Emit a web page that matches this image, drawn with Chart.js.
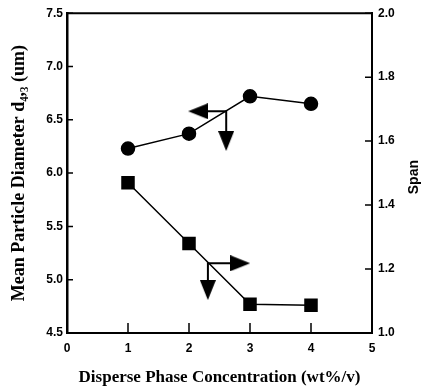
<!DOCTYPE html>
<html><head><meta charset="utf-8">
<script src="https://cdn.jsdelivr.net/npm/chart.js@4/dist/chart.umd.min.js"></script>
<style>html,body{margin:0;padding:0;background:#fff}</style>
</head><body>
<canvas id="c" width="423" height="389"></canvas>
<script>
const concentration = [1, 2, 3, 4];
const meanDiameter = [6.23, 6.37, 6.72, 6.65];
const span = [1.47, 1.28, 1.09, 1.087];
const xTicks = [0, 1, 2, 3, 4, 5];
const leftTicks = [4.5, 5.0, 5.5, 6.0, 6.5, 7.0, 7.5];
const rightTicks = [1.0, 1.2, 1.4, 1.6, 1.8, 2.0];
// arrow annotations (data space): [head A, corner, head B]
const diamArrowX = [2.15, 2.61, 2.61];
const diamArrowY = [6.58, 6.58, 6.30];
const spanArrowX = [2.84, 2.31, 2.31];
const spanArrowY = [1.218, 1.218, 1.134];

const pts = (xs, ys) => xs.map((x, i) => ({x, y: ys[i]}));
const tickFont = {family: 'Liberation Sans', weight: 'bold', size: 12};
const titleFont = {family: 'Liberation Serif', weight: 'bold', size: 17};

// arrowhead glyph (pointing up), rotated per point by Chart.js
const head = document.createElement('canvas');
head.width = 16; head.height = 20;
(() => { const g = head.getContext('2d'); g.fillStyle = '#000'; g.beginPath();
  g.moveTo(8, 0); g.lineTo(16, 20); g.lineTo(0, 20); g.closePath(); g.fill(); })();

const decor = {
  id: 'decor',
  afterDraw(chart) {
    const ctx = chart.ctx, a = chart.chartArea;
    const sx = chart.scales.x, sy = chart.scales.y, sy2 = chart.scales.y2;
    ctx.save();
    ctx.strokeStyle = '#000';
    ctx.lineWidth = 2;
    ctx.beginPath(); ctx.moveTo(a.left, a.top); ctx.lineTo(a.right, a.top); ctx.stroke();
    ctx.lineWidth = 1.5;
    ctx.beginPath();
    xTicks.forEach(v => { const p = sx.getPixelForValue(v); ctx.moveTo(p, a.bottom); ctx.lineTo(p, a.bottom - 10); });
    leftTicks.forEach(v => { const p = sy.getPixelForValue(v); ctx.moveTo(a.left, p); ctx.lineTo(a.left + 6, p); });
    rightTicks.forEach(v => { const p = sy2.getPixelForValue(v); ctx.moveTo(a.right, p); ctx.lineTo(a.right - 7, p); });
    ctx.stroke();
    ctx.fillStyle = '#000';
    ctx.font = 'bold 14px "Liberation Sans"';
    ctx.textAlign = 'center'; ctx.textBaseline = 'middle';
    ctx.translate(414, (a.top + a.bottom) / 2 + 4);
    ctx.rotate(-Math.PI / 2);
    ctx.fillText('Span', 0, 0);
    ctx.restore();
  }
};

new Chart(document.getElementById('c'), {
  type: 'scatter',
  data: {
    datasets: [
      {data: pts(concentration, meanDiameter), yAxisID: 'y', showLine: true, borderColor: '#000', borderWidth: 1.5,
       backgroundColor: '#000', pointStyle: 'circle', pointRadius: 6.5},
      {data: pts(concentration, span), yAxisID: 'y2', showLine: true, borderColor: '#000', borderWidth: 1.5,
       backgroundColor: '#000', pointStyle: 'rect', pointRadius: 8.5},
      {data: pts(diamArrowX, diamArrowY), yAxisID: 'y', showLine: true, borderColor: '#000', borderWidth: 2,
       backgroundColor: '#000', pointStyle: [head, false, head], pointRadius: [10, 0, 10], pointRotation: [-90, 0, 180]},
      {data: pts(spanArrowX, spanArrowY), yAxisID: 'y2', showLine: true, borderColor: '#000', borderWidth: 2,
       backgroundColor: '#000', pointStyle: [head, false, head], pointRadius: [10, 0, 10], pointRotation: [90, 0, 180]}
    ]
  },
  options: {
    responsive: false, animation: false,
    layout: {padding: {top: 12}},
    plugins: {legend: {display: false}, tooltip: {enabled: false}},
    scales: {
      x: {type: 'linear', min: 0, max: 5,
        afterBuildTicks: s => { s.ticks = xTicks.map(v => ({value: v})); },
        afterFit: s => { s.height = 56; },
        grid: {display: false, drawTicks: false}, border: {color: '#000', width: 2},
        ticks: {font: tickFont, color: '#000', padding: 8, callback: v => String(v)},
        title: {display: true, text: 'Disperse Phase Concentration (wt%/v)', font: titleFont, color: '#000', padding: {top: 0, bottom: 1}}},
      y: {type: 'linear', position: 'left', min: 4.5, max: 7.5,
        afterBuildTicks: s => { s.ticks = leftTicks.map(v => ({value: v})); },
        afterFit: s => { s.width = 67; },
        grid: {display: false, drawTicks: false}, border: {color: '#000', width: 2.5},
        ticks: {font: tickFont, color: '#000', padding: 4, callback: v => v.toFixed(1)},
        title: {display: true, text: 'Mean Particle Diameter d\u2084,\u2083 (um)', font: Object.assign({}, titleFont, {size: 18}), color: '#000', padding: {top: 9, bottom: 0}}},
      y2: {type: 'linear', position: 'right', min: 1.0, max: 2.0,
        afterBuildTicks: s => { s.ticks = rightTicks.map(v => ({value: v})); },
        afterFit: s => { s.width = 51; },
        grid: {display: false, drawTicks: false}, border: {color: '#000', width: 2},
        ticks: {font: tickFont, color: '#000', padding: 6, callback: v => v.toFixed(1)}}
    }
  },
  plugins: [decor]
});
</script>
</body></html>
